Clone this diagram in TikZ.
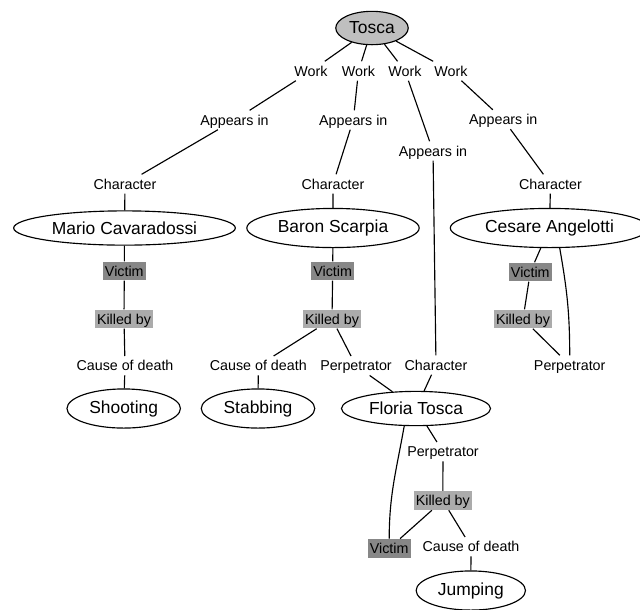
\documentclass[tikz,border=0pt]{standalone}
\usepackage{fontspec}
\setmainfont{Liberation Sans}
\usetikzlibrary{shapes.geometric}

\begin{document}
\begin{tikzpicture}[x=0.7pt, y=0.7pt]

\tikzstyle{myperson}=[
  ellipse,
  draw,
  thick,
  inner sep=4pt,
  font=\fontsize{12.2}{14}\selectfont]

\tikzstyle{myroot}=[myperson, inner xsep=2pt, fill=black!25]

\tikzstyle{myrole}=[
  inner xsep=1.5pt,
  inner ysep=1.6pt,
  text height=8.5pt,
  text depth=1.5pt,
  font=\fontsize{10}{12}\selectfont]

\tikzstyle{myvictim}=[myrole, fill=black!47]

\tikzstyle{mykilled}=[myrole, fill=black!33]

\useasboundingbox (0,0) rectangle (640,-609);

% opera and characters
\node[myroot] (tosca) at (372,-28) {Tosca};
\node[myperson] (mario) at (124.5,-228) {Mario Cavaradossi};
\node[myperson] (scarpia) at (333,-228) {Baron Scarpia};
\node[myperson] (angelotti) at (549.5,-228) {Cesare Angelotti};
\node[myperson] (floria) at (416,-408.5) {Floria Tosca};

% causes of death
\node[myperson] (shooting) at (123.7,-408.5) {Shooting};
\node[myperson] (stabbing) at (258,-408.5) {Stabbing};
\node[myperson] (jumping) at (470.8,-590.5) {Jumping};

% work / appears in / character
\node[myrole] (work1) at (311,-71) {Work};
\node[myrole] (work2) at (358.5,-71) {Work};
\node[myrole] (work3) at (405,-71) {Work};
\node[myrole] (work4) at (451,-71) {Work};

\node[myrole] (app1) at (234.5,-120) {Appears in};
\node[myrole] (app2) at (353.3,-120) {Appears in};
\node[myrole] (app3) at (433,-151) {Appears in};
\node[myrole] (app4) at (503.3,-119.5) {Appears in};

\node[myrole] (char1) at (125,-184) {Character};
\node[myrole] (char2) at (333,-184) {Character};
\node[myrole] (char3) at (436,-365) {Character};
\node[myrole] (char4) at (550.5,-184) {Character};

% deaths
\node[myvictim] (victim1) at (124.3,-271) {Victim};
\node[mykilled] (killed1) at (124,-319) {Killed by};
\node[myrole] (cause1) at (125,-365.7) {Cause of death};

\node[myvictim] (victim2) at (332.7,-271) {Victim};
\node[mykilled] (killed2) at (332,-319) {Killed by};
\node[myrole] (cause2) at (258.3,-365.7) {Cause of death};
\node[myrole] (perp2) at (356,-365.7) {Perpetrator};

\node[myvictim] (victim4) at (530.3,-272) {Victim};
\node[mykilled] (killed4) at (523,-319) {Killed by};
\node[myrole] (perp4) at (569.7,-365) {Perpetrator};

\node[myrole] (perp3) at (443,-451.7) {Perpetrator};
\node[mykilled] (killed3) at (442.8,-500.5) {Killed by};
\node[myvictim] (victim3) at (389.2,-548.3) {Victim};
\node[myrole] (cause3) at (471,-546.7) {Cause of death};

% draw lines
\foreach \i in {1,...,4}
  \draw[thick] (tosca) -- (work\i) -- (app\i) -- (char\i);

\draw[thick]
  (char1) -- (mario)
  (char2) -- (scarpia)
  (char3) -- (floria)
  (char4) -- (angelotti)
  (mario) -- (victim1) -- (killed1) -- (cause1) -- (shooting)
  (scarpia) -- (victim2) -- (killed2) -- (cause2) -- (stabbing)
  (killed2) -- (perp2) -- (floria)
  (angelotti) -- (victim4) -- (killed4) -- (perp4)
  (angelotti.-63) to[out=-80, in=90] (perp4)
  (floria) -- (perp3) -- (killed3) -- (victim3)
  (killed3) -- (cause3) -- (jumping)
  (floria.236) to[out=-100, in=90] (victim3)
  ;

\end{tikzpicture}
\end{document}
